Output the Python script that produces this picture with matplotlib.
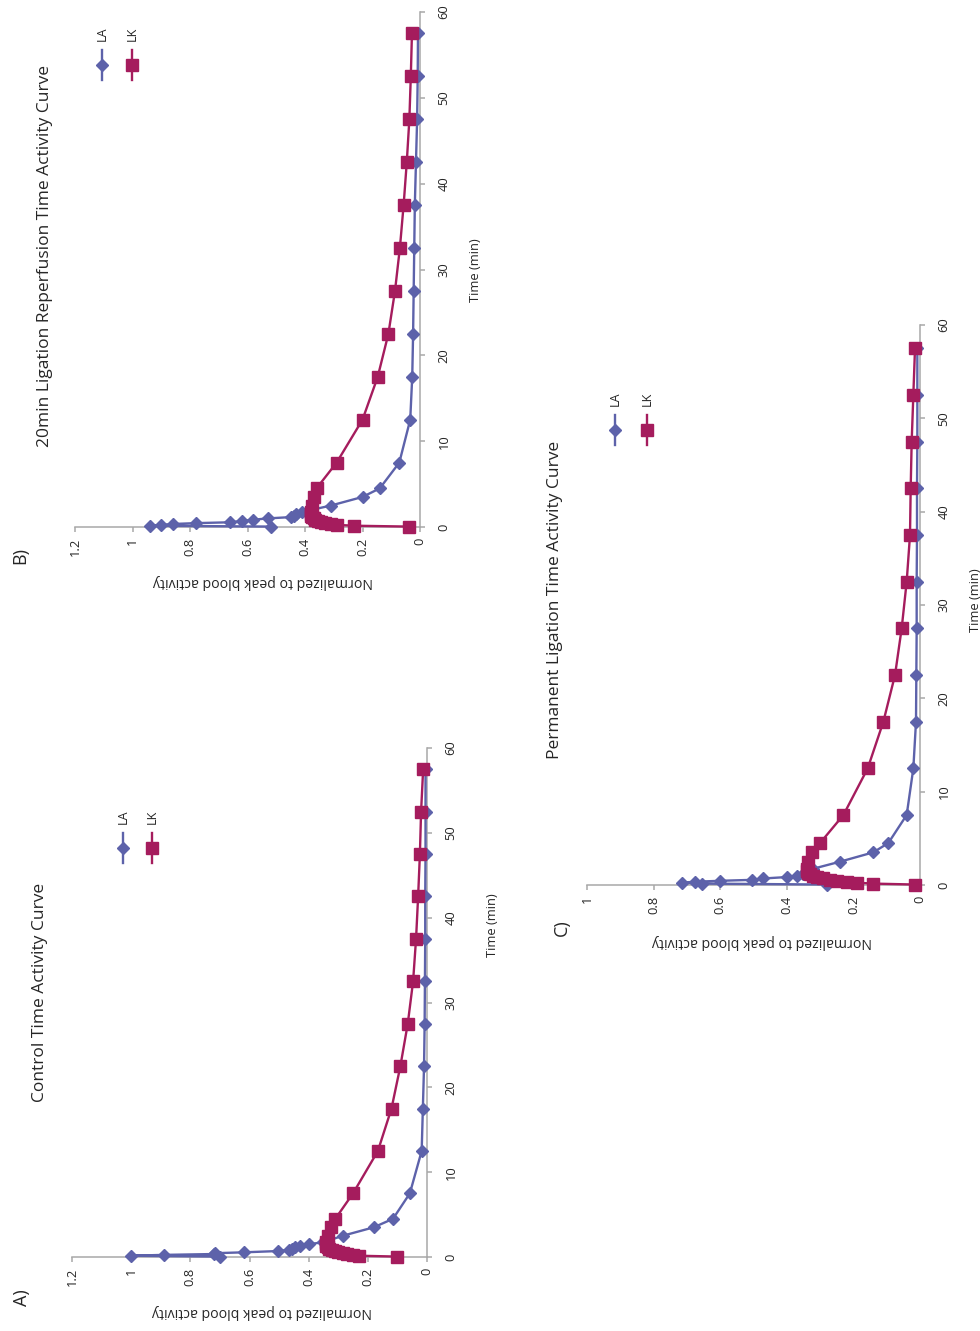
import numpy as np
import matplotlib
matplotlib.use("Agg")
import matplotlib.pyplot as plt
from matplotlib.lines import Line2D
from matplotlib.ticker import FuncFormatter

plt.rcParams['font.family'] = ['Open Sans', 'DejaVu Sans']

# Frame mid-times (min) shared by all three time-activity curves
time_min = [0.05, 0.15, 0.25, 0.35, 0.45, 0.55, 0.7, 0.85, 1.0, 1.15, 1.3, 1.5, 1.75,
            2.5, 3.5, 4.5, 7.5, 12.5, 17.5, 22.5, 27.5, 32.5, 37.5, 42.5, 47.5, 52.5, 57.5]

# A) Control
control_la = [0.70, 1.00, 0.89, 0.72, 0.715, 0.62, 0.505, 0.465, 0.455, 0.445, 0.43, 0.40, 0.35,
              0.285, 0.18, 0.115, 0.058, 0.018, 0.014, 0.010, 0.008, 0.007, 0.006, 0.006, 0.005, 0.005, 0.005]
control_lk = [0.10, 0.23, 0.25, 0.27, 0.285, 0.30, 0.31, 0.32, 0.33, 0.335, 0.34, 0.34, 0.34,
              0.335, 0.325, 0.31, 0.25, 0.166, 0.12, 0.09, 0.065, 0.047, 0.037, 0.03, 0.024, 0.02, 0.013]

# B) 20 min ligation, reperfusion
reperf_la = [0.52, 0.94, 0.90, 0.86, 0.78, 0.66, 0.62, 0.58, 0.53, 0.45, 0.44, 0.43, 0.41,
             0.31, 0.20, 0.14, 0.072, 0.034, 0.027, 0.024, 0.022, 0.020, 0.018, 0.014, 0.010, 0.008, 0.007]
reperf_lk = [0.04, 0.23, 0.29, 0.31, 0.33, 0.345, 0.355, 0.365, 0.37, 0.375, 0.38, 0.38, 0.38,
             0.375, 0.37, 0.36, 0.29, 0.20, 0.147, 0.11, 0.087, 0.07, 0.057, 0.046, 0.037, 0.032, 0.028]

# C) Permanent ligation
perm_la = [0.28, 0.655, 0.715, 0.675, 0.60, 0.505, 0.47, 0.40, 0.37, 0.35, 0.34, 0.335, 0.32,
           0.24, 0.14, 0.095, 0.04, 0.02, 0.012, 0.011, 0.010, 0.010, 0.009, 0.009, 0.008, 0.008, 0.008]
perm_lk = [0.015, 0.14, 0.19, 0.22, 0.25, 0.27, 0.29, 0.31, 0.32, 0.33, 0.335, 0.34, 0.34,
           0.335, 0.325, 0.30, 0.23, 0.157, 0.11, 0.075, 0.055, 0.04, 0.03, 0.028, 0.025, 0.02, 0.015]

series_names = ["LA", "LK"]
titles = ["Control Time Activity Curve",
          "20min Ligation Reperfusion Time Activity Curve",
          "Permanent Ligation Time Activity Curve"]
panel_tags = ["A)", "B)", "C)"]
value_label = "Normalized to peak blood activity"
time_label = "Time (min)"
time_ticks = [0, 10, 20, 30, 40, 50, 60]

LA_COLOR = "#5d62aa"
LK_COLOR = "#a51c5d"
AXIS_GRAY = "#a8a8a8"
TEXT = "#262626"
LW = 1.7
MS_LA = 5.8
MS_LK = 9.0

W, H = 980, 1331
fig = plt.figure(figsize=(W / 100, H / 100), dpi=100)


def fx(x):
    return x / W


def fy(y):
    return 1 - y / H


def px_axes(x0, x1, y_top, y_bot):
    return fig.add_axes([fx(x0), fy(y_bot), (x1 - x0) / W, (y_bot - y_top) / H])


def draw_panel(box, vmax, la, lk, title, tag, title_xy, tag_xy, vlabel_xy, tlabel_xy, legend_xy):
    ax = px_axes(*box)
    ax.set_facecolor("none")
    ax.plot(la, time_min, color=LA_COLOR, lw=LW, marker="D", ms=MS_LA,
            mec=LA_COLOR, mfc=LA_COLOR, clip_on=False, zorder=3)
    ax.plot(lk, time_min, color=LK_COLOR, lw=LW, marker="s", ms=MS_LK,
            mec=LK_COLOR, mfc=LK_COLOR, clip_on=False, zorder=4)
    ax.set_xlim(vmax, 0)
    ax.set_ylim(0, 60)
    for s in ("top", "left"):
        ax.spines[s].set_visible(False)
    for s in ("right", "bottom"):
        ax.spines[s].set_color(AXIS_GRAY)
        ax.spines[s].set_linewidth(1.1)
    ax.yaxis.tick_right()
    ax.set_yticks(time_ticks)
    ax.set_xticks(np.round(np.arange(0, vmax + 0.001, 0.2), 1))
    ax.xaxis.set_major_formatter(FuncFormatter(lambda v, p: f"{v:g}"))
    ax.tick_params(axis="both", direction="out", length=3.5, width=1.1, color=AXIS_GRAY,
                   labelsize=9.3, labelcolor=TEXT)
    ax.tick_params(axis="y", labelrotation=90, pad=9)
    ax.tick_params(axis="x", labelrotation=90, pad=4)
    for lbl in ax.get_yticklabels():
        lbl.set_va("center")
        lbl.set_ha("left")
    for lbl in ax.get_xticklabels():
        lbl.set_ha("center")
        lbl.set_va("top")

    fig.text(fx(title_xy[0]), fy(title_xy[1]), title, rotation=90, ha="center", va="center",
             fontsize=12.5, color=TEXT)
    fig.text(fx(tag_xy[0]), fy(tag_xy[1]), tag, rotation=90, ha="center", va="center",
             fontsize=13, color=TEXT)
    fig.text(fx(vlabel_xy[0]), fy(vlabel_xy[1]), value_label, rotation=180, ha="center",
             va="center", fontsize=10.2, color=TEXT)
    fig.text(fx(tlabel_xy[0]), fy(tlabel_xy[1]), time_label, rotation=90, ha="center",
             va="center", fontsize=9.3, color=TEXT)

    # legend: vertical line samples with the series marker, names above
    lx, ly, gap = legend_xy
    for i, (name, col, mk, ms) in enumerate(zip(series_names, [LA_COLOR, LK_COLOR],
                                                 ["D", "s"], [MS_LA, MS_LK])):
        x = lx + i * gap
        fig.add_artist(Line2D([fx(x), fx(x)], [fy(ly - 15), fy(ly + 15)],
                              transform=fig.transFigure, color=col, lw=LW))
        fig.add_artist(Line2D([fx(x)], [fy(ly)], transform=fig.transFigure, color=col,
                              marker=mk, ms=ms, mfc=col, mec=col, lw=0))
        fig.text(fx(x), fy(ly - 31), name, rotation=90, ha="center", va="center",
                 fontsize=9, color=TEXT)
    return ax


draw_panel((72, 427, 748, 1257), 1.2, control_la, control_lk, titles[0], panel_tags[0],
           (40, 992), (22, 1298), (262, 1312), (492, 925), (123, 848, 29))
draw_panel((75, 420, 12, 527), 1.2, reperf_la, reperf_lk, titles[1], panel_tags[1],
           (45, 256), (20, 555), (263, 581), (475, 270), (102, 65, 30))
draw_panel((587, 920, 325, 885), 1.0, perm_la, perm_lk, titles[2], panel_tags[2],
           (555, 600), (562, 928), (762, 941), (975, 600), (615, 430, 32))

fig.savefig("out.png", dpi=100)
